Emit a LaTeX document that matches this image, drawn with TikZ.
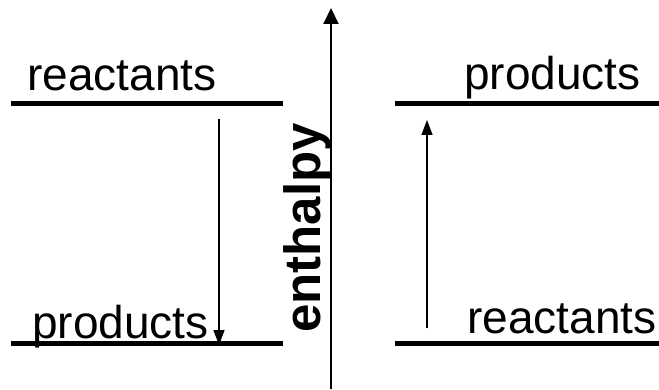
\documentclass[tikz,border=0pt]{standalone}
\usepackage{fontspec}
\setmainfont{Liberation Sans}
\usetikzlibrary{arrows.meta}
\begin{document}
\begin{tikzpicture}[x=1pt,y=1pt,
  level/.style={line width=5pt},
  label/.style={inner sep=0pt,anchor=base west,font=\fontsize{46}{52}\selectfont},
  axis/.style={line width=2pt,-{Triangle[width=15pt,length=16pt]}},
  change/.style={line width=1.5pt,-{Triangle[width=11pt,length=15pt]}}]
\useasboundingbox (0,0) rectangle (659,389);
% enthalpy axis
\coordinate (axbot) at (331,0);
\coordinate (axtop) at (331,381);
\draw[axis] (axbot) -- (axtop);
\node[inner sep=0pt,anchor=base west,rotate=90,font=\fontsize{51}{56}\selectfont\bfseries] (ylab) at (320,56) {enthalpy};
% exothermic side
\coordinate (l1a) at (11,285);  \coordinate (l1b) at (283,285);
\coordinate (l2a) at (11,45.5); \coordinate (l2b) at (283,45.5);
\draw[level] (l1a) -- (l1b);
\draw[level] (l2a) -- (l2b);
\node[label] (lr) at (27,298) {reactants};
\node[label] (lp) at (32,51) {products};
\coordinate (ea) at (219,270);
\coordinate (eb) at (219,44);
\draw[change] (ea) -- (eb);
% endothermic side
\coordinate (r1a) at (395,285); \coordinate (r1b) at (659,285);
\coordinate (r2a) at (395,45.5); \coordinate (r2b) at (659,45.5);
\draw[level] (r1a) -- (r1b);
\draw[level] (r2a) -- (r2b);
\node[label] (rp) at (464,299) {products};
\node[label] (rr) at (467,56) {reactants};
\coordinate (na) at (427,61);
\coordinate (nb) at (427,269);
\draw[change] (na) -- (nb);
\end{tikzpicture}
\end{document}
